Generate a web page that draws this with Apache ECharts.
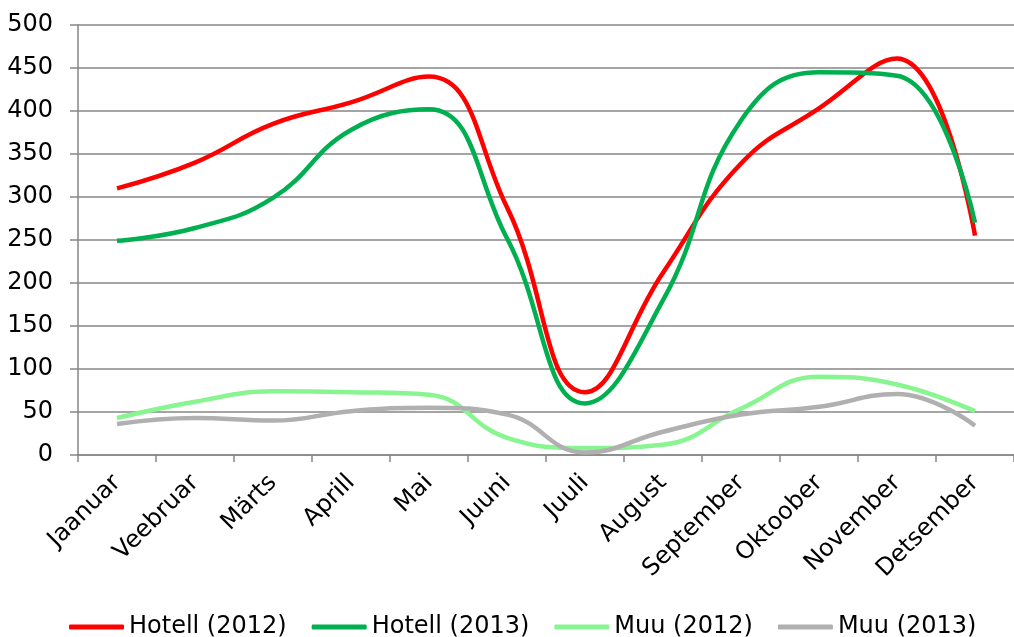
<!DOCTYPE html>
<html>
<head>
<meta charset="utf-8">
<script src="https://cdn.jsdelivr.net/npm/echarts@6/dist/echarts.min.js"></script>
<style>
  html, body { margin: 0; padding: 0; background: #fff; }
  #main { width: 1014px; height: 637px; }
</style>
</head>
<body>
<div id="main"></div>
<script>
// kuud
var months = ['Jaanuar', 'Veebruar', 'Märts', 'Aprill', 'Mai', 'Juuni', 'Juuli', 'August', 'September', 'Oktoober', 'November', 'Detsember'];
// seeriad
var hotell2012 = [310, 340, 385, 410, 440, 288, 73, 212, 339, 403, 461, 255];
var hotell2013 = [249, 264, 299, 378, 402, 252, 60, 180, 389, 445, 441, 270];
var muu2012 = [43, 62, 74, 73, 70, 20, 8, 12, 54, 91, 82, 51];
var muu2013 = [36, 43, 40, 51, 55, 47, 3, 27, 47, 56, 71, 34];
var seriesNames = ['Hotell (2012)', 'Hotell (2013)', 'Muu (2012)', 'Muu (2013)'];

var font = 'DejaVu Sans';
var grey = '#868686';

function line(name, data, color) {
  return {
    name: name,
    type: 'line',
    data: data,
    smooth: 0.45,
    showSymbol: false,
    lineStyle: { color: color, width: 4.5 },
    itemStyle: { color: color }
  };
}

var chart = echarts.init(document.getElementById('main'));
chart.setOption({
  animation: false,
  textStyle: { fontFamily: font },
  grid: { left: 78, top: 25, width: 943.5, height: 430 },
  legend: {
    top: 610,
    left: 64,
    icon: 'roundRect',
    itemWidth: 55,
    itemHeight: 5,
    itemGap: 25,
    data: seriesNames,
    textStyle: { fontFamily: font, fontSize: 24, color: '#000' }
  },
  xAxis: {
    type: 'category',
    data: months,
    boundaryGap: true,
    axisLine: { lineStyle: { color: grey, width: 1.5 } },
    axisTick: { show: true, length: 7, lineStyle: { color: grey, width: 1.5 } },
    axisLabel: { rotate: 45, margin: 24, fontSize: 24, color: '#000', fontFamily: font, interval: 0 }
  },
  yAxis: {
    type: 'value',
    min: 0,
    max: 500,
    interval: 50,
    axisLine: { show: true, lineStyle: { color: grey, width: 1.5 } },
    axisTick: { show: true, length: 8, lineStyle: { color: grey, width: 1.5 } },
    splitLine: { lineStyle: { color: grey, width: 1.5 } },
    axisLabel: { margin: 25, fontSize: 24, color: '#000', fontFamily: font }
  },
  series: [
    line(seriesNames[0], hotell2012, '#FF0000'),
    line(seriesNames[1], hotell2013, '#00B050'),
    line(seriesNames[2], muu2012, '#88F590'),
    line(seriesNames[3], muu2013, '#B0B0B0')
  ]
});
</script>
</body>
</html>
